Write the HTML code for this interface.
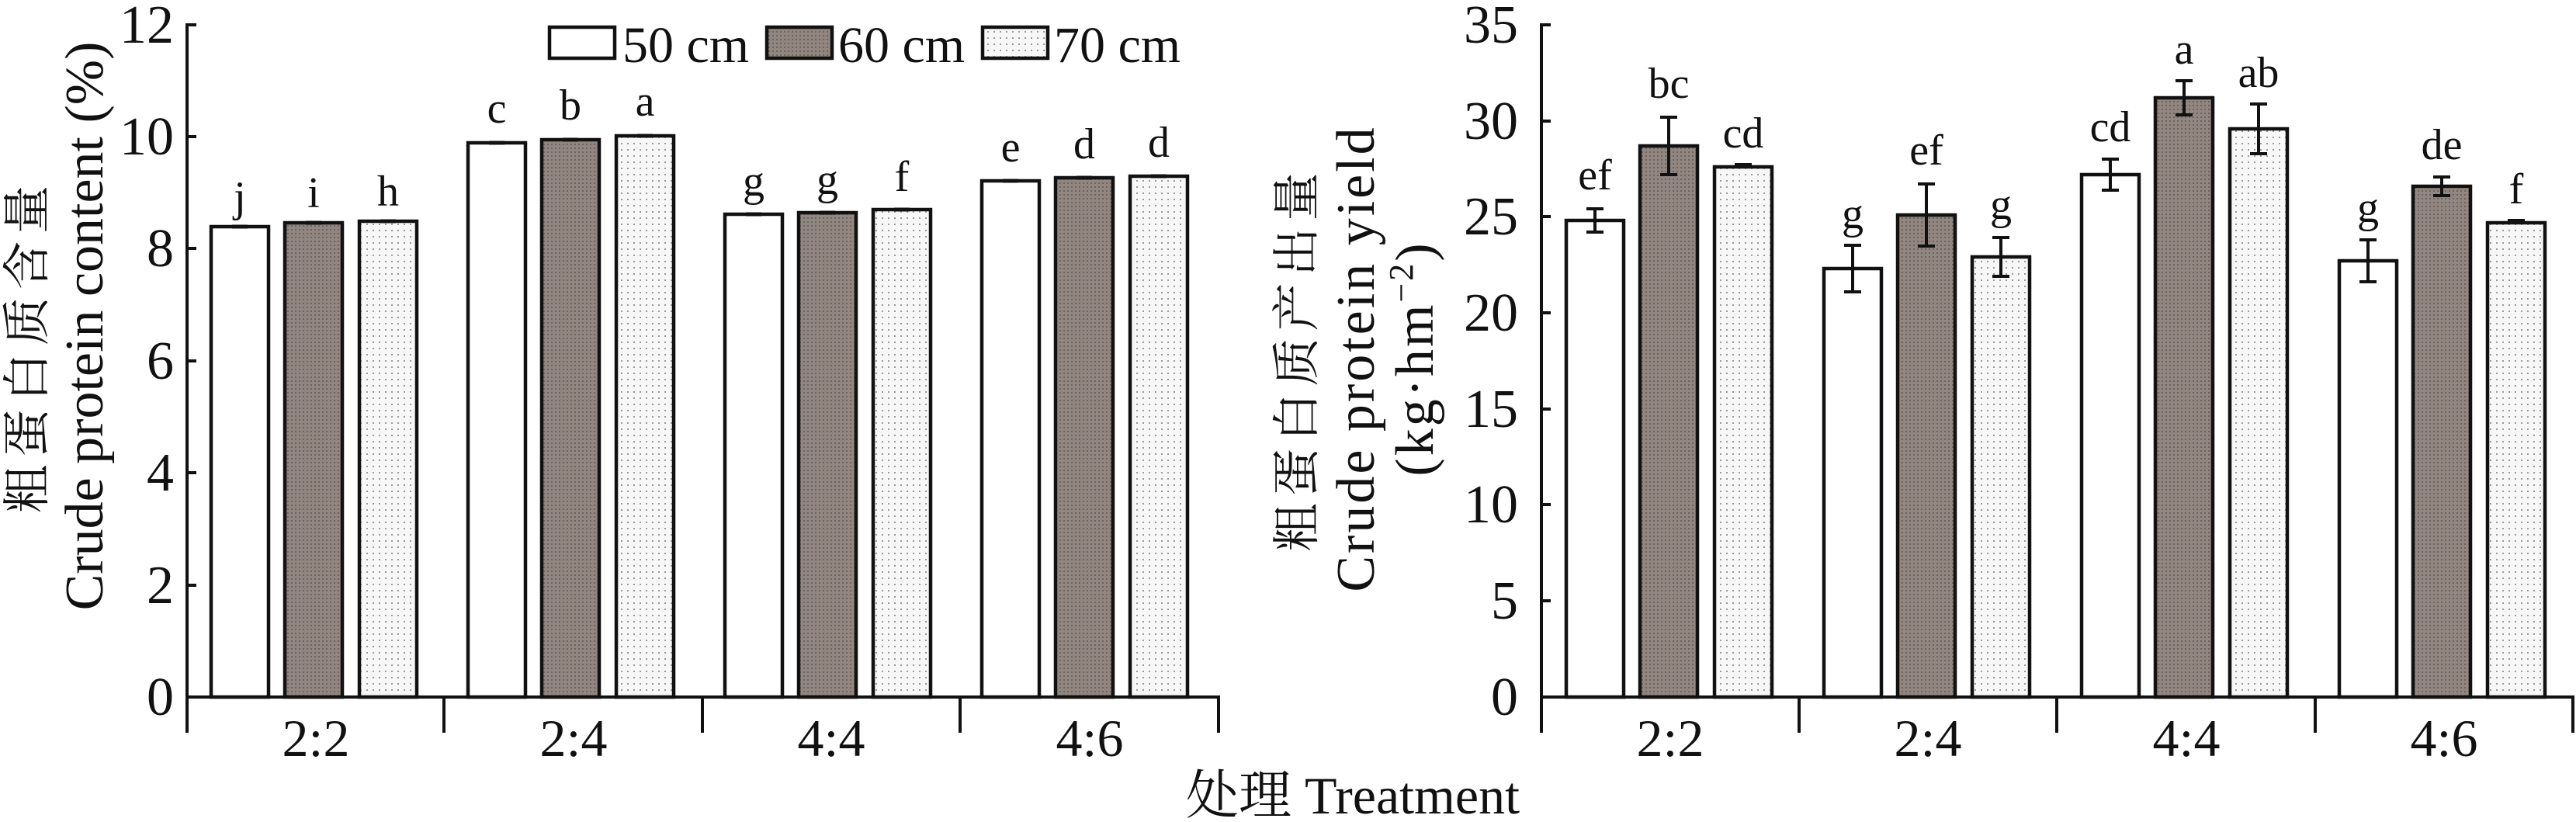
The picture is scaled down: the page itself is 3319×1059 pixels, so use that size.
<!DOCTYPE html>
<html><head><meta charset="utf-8"><style>
html,body{margin:0;padding:0;background:#fff;}
svg{display:block;}
text{font-family:"Liberation Serif","Noto Serif CJK SC",serif;fill:#111;}
</style></head><body>
<svg width="3319" height="1059" viewBox="0 0 3319 1059" xmlns="http://www.w3.org/2000/svg">
<defs>
<pattern id="dk" width="5" height="5" patternUnits="userSpaceOnUse"><rect width="5" height="5" fill="#918680"/><rect width="2" height="2" fill="#6e645f"/></pattern>
<pattern id="lt" width="8" height="8" patternUnits="userSpaceOnUse"><rect width="8" height="8" fill="#f7f7f7"/><rect width="2" height="2" fill="#9a9a9a"/></pattern>
</defs>
<g stroke="#111" stroke-width="4" fill="none">
<line x1="241" y1="30" x2="241" y2="944"/>
<line x1="239" y1="898" x2="1572" y2="898"/>
<line x1="572" y1="898" x2="572" y2="944"/><line x1="905" y1="898" x2="905" y2="944"/><line x1="1237" y1="898" x2="1237" y2="944"/><line x1="1570" y1="898" x2="1570" y2="944"/>
<line x1="241" y1="32" x2="253" y2="32"/><line x1="241" y1="176" x2="253" y2="176"/><line x1="241" y1="320" x2="253" y2="320"/><line x1="241" y1="465" x2="253" y2="465"/><line x1="241" y1="609" x2="253" y2="609"/><line x1="241" y1="754" x2="253" y2="754"/>
<line x1="1986" y1="30" x2="1986" y2="944"/>
<line x1="1984" y1="898" x2="3317" y2="898"/>
<line x1="2318" y1="898" x2="2318" y2="944"/><line x1="2650" y1="898" x2="2650" y2="944"/><line x1="2983" y1="898" x2="2983" y2="944"/><line x1="3315" y1="898" x2="3315" y2="944"/>
<line x1="1986" y1="32" x2="1998" y2="32"/><line x1="1986" y1="156" x2="1998" y2="156"/><line x1="1986" y1="279" x2="1998" y2="279"/><line x1="1986" y1="403" x2="1998" y2="403"/><line x1="1986" y1="527" x2="1998" y2="527"/><line x1="1986" y1="650" x2="1998" y2="650"/><line x1="1986" y1="774" x2="1998" y2="774"/>
</g>
<g stroke="#111" stroke-width="4.5">
<rect x="272" y="292" width="74" height="606" fill="#fff"/>
<rect x="367" y="287" width="74" height="611" fill="url(#dk)"/>
<rect x="463" y="285" width="74" height="613" fill="url(#lt)"/>
<rect x="603" y="184" width="74" height="714" fill="#fff"/>
<rect x="698" y="180" width="74" height="718" fill="url(#dk)"/>
<rect x="794" y="175" width="74" height="723" fill="url(#lt)"/>
<rect x="934" y="276" width="74" height="622" fill="#fff"/>
<rect x="1029" y="274" width="74" height="624" fill="url(#dk)"/>
<rect x="1125" y="270" width="74" height="628" fill="url(#lt)"/>
<rect x="1265" y="233" width="74" height="665" fill="#fff"/>
<rect x="1360" y="229" width="74" height="669" fill="url(#dk)"/>
<rect x="1456" y="227" width="74" height="671" fill="url(#lt)"/>
<rect x="2018" y="284" width="74" height="614" fill="#fff"/>
<rect x="2113" y="188" width="74" height="710" fill="url(#dk)"/>
<rect x="2209" y="215" width="74" height="683" fill="url(#lt)"/>
<rect x="2350" y="346" width="74" height="552" fill="#fff"/>
<rect x="2445" y="277" width="74" height="621" fill="url(#dk)"/>
<rect x="2541" y="331" width="74" height="567" fill="url(#lt)"/>
<rect x="2682" y="225" width="74" height="673" fill="#fff"/>
<rect x="2777" y="126" width="74" height="772" fill="url(#dk)"/>
<rect x="2873" y="166" width="74" height="732" fill="url(#lt)"/>
<rect x="3014" y="336" width="74" height="562" fill="#fff"/>
<rect x="3109" y="240" width="74" height="658" fill="url(#dk)"/>
<rect x="3205" y="287" width="74" height="611" fill="url(#lt)"/>
</g>
<g stroke="#111" stroke-width="5">
<line x1="299" y1="292" x2="319" y2="292"/><line x1="394" y1="287" x2="414" y2="287"/><line x1="490" y1="285" x2="510" y2="285"/>
<line x1="630" y1="184" x2="650" y2="184"/><line x1="725" y1="180" x2="745" y2="180"/><line x1="821" y1="175" x2="841" y2="175"/>
<line x1="961" y1="276" x2="981" y2="276"/><line x1="1056" y1="274" x2="1076" y2="274"/><line x1="1152" y1="270" x2="1172" y2="270"/>
<line x1="1292" y1="233" x2="1312" y2="233"/><line x1="1387" y1="229" x2="1407" y2="229"/><line x1="1483" y1="227" x2="1503" y2="227"/>
</g>
<g stroke="#111" stroke-width="4">
<path d="M2055 269V299M2044 269H2066M2044 299H2066"/>
<path d="M2150 151V225M2139 151H2161M2139 225H2161"/>
<path d="M2235 212H2257"/>
<path d="M2387 316V376M2376 316H2398M2376 376H2398"/>
<path d="M2482 237V317M2471 237H2493M2471 317H2493"/>
<path d="M2578 306V356M2567 306H2589M2567 356H2589"/>
<path d="M2719 205V245M2708 205H2730M2708 245H2730"/>
<path d="M2814 104V148M2803 104H2825M2803 148H2825"/>
<path d="M2910 134V198M2899 134H2921M2899 198H2921"/>
<path d="M3051 309V363M3040 309H3062M3040 363H3062"/>
<path d="M3146 228V252M3135 228H3157M3135 252H3157"/>
<path d="M3231 284H3253"/>
</g>
<g font-size="56" text-anchor="middle">
<text x="309" y="272">j</text><text x="404" y="267">i</text><text x="500" y="265">h</text>
<text x="640" y="158">c</text><text x="735" y="154">b</text><text x="831" y="149">a</text>
<text x="971" y="252">g</text><text x="1066" y="250">g</text><text x="1162" y="246">f</text>
<text x="1302" y="208">e</text><text x="1397" y="204">d</text><text x="1493" y="202">d</text>
<text x="2055" y="244">ef</text><text x="2150" y="126">bc</text><text x="2246" y="190">cd</text>
<text x="2387" y="294">g</text><text x="2482" y="212">ef</text><text x="2578" y="282">g</text>
<text x="2719" y="182">cd</text><text x="2814" y="82">a</text><text x="2910" y="112">ab</text>
<text x="3051" y="286">g</text><text x="3146" y="205">de</text><text x="3242" y="262">f</text>
</g>
<g font-size="70" text-anchor="end">
<text x="224" y="55">12</text><text x="224" y="199">10</text><text x="224" y="343">8</text><text x="224" y="488">6</text><text x="224" y="632">4</text><text x="224" y="777">2</text><text x="224" y="921">0</text>
<text x="1956" y="55">35</text><text x="1956" y="179">30</text><text x="1956" y="302">25</text><text x="1956" y="426">20</text><text x="1956" y="550">15</text><text x="1956" y="673">10</text><text x="1956" y="797">5</text><text x="1956" y="921">0</text>
</g>
<g font-size="68" text-anchor="middle">
<text x="407" y="974">2:2</text><text x="739" y="974">2:4</text><text x="1071" y="974">4:4</text><text x="1404" y="974">4:6</text>
<text x="2152" y="974">2:2</text><text x="2484" y="974">2:4</text><text x="2817" y="974">4:4</text><text x="3149" y="974">4:6</text>
<text x="1743" y="1048">处理 Treatment</text>
</g>
<g stroke="#111" stroke-width="4.5">
<rect x="708" y="35" width="84" height="40" fill="#fff"/>
<rect x="988" y="35" width="84" height="40" fill="url(#dk)"/>
<rect x="1266" y="35" width="84" height="40" fill="url(#lt)"/>
</g>
<g font-size="66">
<text x="802" y="80">50 cm</text><text x="1080" y="80">60 cm</text><text x="1358" y="80">70 cm</text>
</g>
<g text-anchor="middle">
<text transform="translate(56,445) rotate(-90)" font-size="62" letter-spacing="10">粗蛋白质含量</text>
<text transform="translate(132,420) rotate(-90)" font-size="70">Crude protein content (%)</text>
<text transform="translate(1692,462) rotate(-90)" font-size="62" letter-spacing="9">粗蛋白质产出量</text>
<text transform="translate(1770,462) rotate(-90)" font-size="70" letter-spacing="3">Crude protein yield</text>
<text transform="translate(1846,462) rotate(-90)" font-size="70" letter-spacing="3">(kg·hm<tspan font-size="44" dy="-26">−2</tspan><tspan dy="26">)</tspan></text>
</g>
</svg>
</body></html>
